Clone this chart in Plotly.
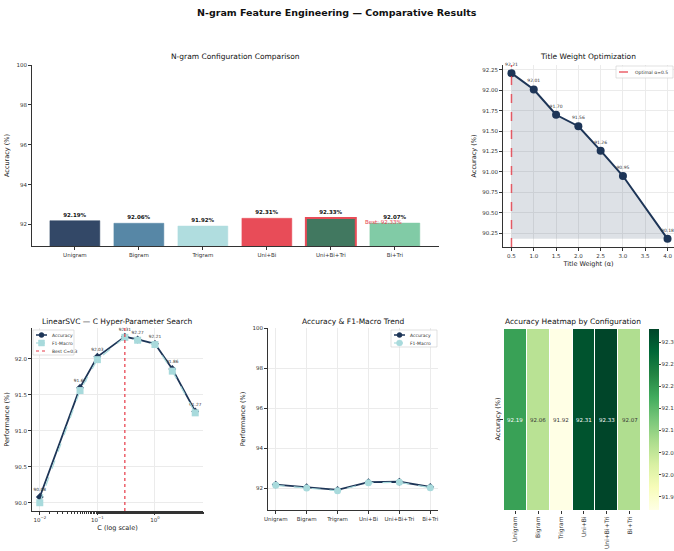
import plotly.graph_objects as go
import numpy as np

# ---------------- data ----------------
configs = ["Unigram", "Bigram", "Trigram", "Uni+Bi", "Uni+Bi+Tri", "Bi+Tri"]
config_acc = [92.19, 92.06, 91.92, 92.31, 92.33, 92.07]
config_f1 = [92.15, 92.02, 91.88, 92.28, 92.30, 92.03]
bar_colors = ["#1d3557", "#457b9d", "#a8dadc", "#e63946", "#2d6a4f", "#74c69d"]

title_weights = [0.5, 1.0, 1.5, 2.0, 2.5, 3.0, 4.0]
weight_acc = [92.21, 92.01, 91.70, 91.56, 91.26, 90.95, 90.18]

c_values = [0.01, 0.05, 0.1, 0.3, 0.5, 1.0, 2.0, 5.0]
c_acc = [90.08, 91.60, 92.03, 92.31, 92.27, 92.21, 91.86, 91.27]
c_f1 = [90.00, 91.56, 91.99, 92.30, 92.26, 92.20, 91.83, 91.25]

NAVY = "#1d3557"
RED = "#e63946"
CYAN = "#a8dadc"
FONT = "DejaVu Sans"
W, H = 674, 551


def px_x(p):
    return p / W


def px_y(p):
    return 1 - p / H


fig = go.Figure()

# ---------------- top-left: bar chart ----------------
xs = list(range(len(configs)))
best_i = int(np.argmax(config_acc))
fig.add_trace(go.Bar(
    x=xs, y=config_acc, width=0.78,
    marker=dict(color=bar_colors, opacity=0.9,
                line=dict(color=[RED if i == best_i else c for i, c in enumerate(bar_colors)],
                          width=[2 if i == best_i else 0.5 for i in xs])),
    text=[f"<b>{v:.2f}%</b>" for v in config_acc], textposition="outside",
    textfont=dict(size=5.5, color="#111", family=FONT), cliponaxis=False,
    xaxis="x", yaxis="y", showlegend=False))

# ---------------- top-right: title weight ----------------
base = min(weight_acc)
fig.add_trace(go.Scatter(x=title_weights, y=[base] * len(title_weights), mode="lines",
                         line=dict(width=0), hoverinfo="skip", showlegend=False,
                         xaxis="x2", yaxis="y2"))
fig.add_trace(go.Scatter(x=title_weights, y=weight_acc, mode="lines+markers+text",
                         fill="tonexty", fillcolor="rgba(29,53,87,0.15)",
                         line=dict(color=NAVY, width=2), marker=dict(size=8, color=NAVY),
                         text=[f"{v:.2f}" for v in weight_acc], textposition="top center",
                         textfont=dict(size=4.5, color="#333", family=FONT),
                         showlegend=False, xaxis="x2", yaxis="y2", cliponaxis=False))
best_w = title_weights[int(np.argmax(weight_acc))]
fig.add_shape(type="line", xref="x2", yref="y2 domain", x0=best_w, x1=best_w, y0=0, y1=1,
              line=dict(color=RED, width=1.5, dash="dash"), opacity=0.8)

# ---------------- bottom-left: C search ----------------
fig.add_trace(go.Scatter(x=c_values, y=c_acc, mode="lines+markers+text", name="Accuracy",
                         line=dict(color=NAVY, width=1.8), marker=dict(size=6, color=NAVY, symbol="diamond"),
                         text=[f"{v:.2f}" for v in c_acc], textposition="top center",
                         textfont=dict(size=4.3, color="#333", family=FONT),
                         xaxis="x3", yaxis="y3", showlegend=False, cliponaxis=False))
fig.add_trace(go.Scatter(x=c_values, y=c_f1, mode="lines+markers", name="F1-Macro",
                         line=dict(color=CYAN, width=1.2, dash="dash"),
                         marker=dict(size=7, color=CYAN, symbol="square"),
                         xaxis="x3", yaxis="y3", showlegend=False))
best_c = c_values[int(np.argmax(c_acc))]
fig.add_shape(type="line", xref="x3", yref="y3 domain", x0=best_c, x1=best_c, y0=0, y1=1,
              line=dict(color=RED, width=1.2, dash="dot"))

# ---------------- bottom-middle: trend ----------------
fig.add_trace(go.Scatter(x=xs, y=config_acc, mode="lines+markers", name="Accuracy",
                         line=dict(color=NAVY, width=1.8), marker=dict(size=6, color=NAVY, symbol="diamond"),
                         xaxis="x4", yaxis="y4", showlegend=False))
fig.add_trace(go.Scatter(x=xs, y=config_f1, mode="lines+markers", name="F1-Macro",
                         line=dict(color=CYAN, width=1.2, dash="dash"),
                         marker=dict(size=7, color=CYAN, symbol="circle"),
                         xaxis="x4", yaxis="y4", showlegend=False))

# ---------------- bottom-right: heatmap ----------------
ylgn = [[0.0, "#ffffe5"], [0.125, "#f7fcb9"], [0.25, "#d9f0a3"], [0.375, "#addd8e"],
        [0.5, "#78c679"], [0.625, "#41ab5d"], [0.75, "#238443"], [0.875, "#006837"],
        [1.0, "#004529"]]
zmin, zmax = min(config_acc), max(config_acc)
fig.add_trace(go.Heatmap(z=[config_acc], x=xs, y=[0], colorscale=ylgn, zmin=zmin, zmax=zmax,
                         xgap=1, xaxis="x5", yaxis="y5", showscale=True,
                         colorbar=dict(x=px_x(649), xanchor="left", xpad=0, ypad=0,
                                       y=px_y(419.5), yanchor="middle",
                                       len=181 / H, thickness=10, outlinewidth=0,
                                       tickvals=[91.95, 92.00, 92.05, 92.10, 92.15, 92.20, 92.25, 92.30],
                                       ticktext=["91.95", "92.00", "92.05", "92.10", "92.15", "92.20", "92.25", "92.30"],
                                       ticks="outside", ticklen=2,
                                       tickfont=dict(size=5.5, family=FONT, color="#333"))))
for i, v in enumerate(config_acc):
    norm = (v - zmin) / (zmax - zmin)
    fig.add_annotation(x=i, y=0, xref="x5", yref="y5", text=f"{v:.2f}", showarrow=False,
                       font=dict(size=5.5, family=FONT, color="white" if norm > 0.5 else "#333"))

# ---------------- layout ----------------
tick_font = dict(size=5.5, family=FONT, color="#333")
title_font = dict(size=6.5, family=FONT, color="#222")
axis_common = dict(showline=True, linecolor="#333", linewidth=1, ticks="outside", ticklen=3,
                   tickcolor="#333", tickfont=tick_font, zeroline=False, mirror=False)
grid = dict(showgrid=True, gridcolor="#ebebeb", gridwidth=0.6)
nogrid = dict(showgrid=False)

fig.update_layout(
    width=W, height=H, margin=dict(l=0, r=0, t=0, b=0, autoexpand=False),
    paper_bgcolor="white", plot_bgcolor="white",
    font=dict(family=FONT, color="#222"), showlegend=False,
    xaxis=dict(domain=[px_x(32), px_x(439)], range=[-0.67, 5.69], tickvals=xs, ticktext=configs,
               anchor="y", **axis_common, **nogrid),
    yaxis=dict(domain=[px_y(246), px_y(65)], range=[min(config_acc) - 1, 100],
               tickvals=[92, 94, 96, 98, 100], anchor="x",
               title=dict(text="Accuracy (%)", font=title_font, standoff=6), **axis_common, **nogrid),
    xaxis2=dict(domain=[px_x(503), 1.0], range=[0.31, 4.145],
                tickvals=[0.5, 1.0, 1.5, 2.0, 2.5, 3.0, 3.5, 4.0],
                ticktext=["0.5", "1.0", "1.5", "2.0", "2.5", "3.0", "3.5", "4.0"], anchor="y2",
                title=dict(text="Title Weight (α)", font=title_font, standoff=3), **axis_common, **grid),
    yaxis2=dict(domain=[px_y(247), px_y(65)], range=[90.08, 92.31],
                tickvals=[90.25, 90.5, 90.75, 91.0, 91.25, 91.5, 91.75, 92.0, 92.25],
                ticktext=["90.25", "90.50", "90.75", "91.00", "91.25", "91.50", "91.75", "92.00", "92.25"],
                anchor="x2", title=dict(text="Accuracy (%)", font=title_font, standoff=4),
                **axis_common, **grid),
    xaxis3=dict(domain=[px_x(32), px_x(203)], type="log", range=[-2.135, 0.834],
                tickvals=[0.01, 0.1, 1], ticktext=["10<sup>−2</sup>", "10<sup>−1</sup>", "10<sup>0</sup>"],
                anchor="y3", title=dict(text="C (log scale)", font=title_font, standoff=3),
                minor=dict(ticks="outside", ticklen=2, tickcolor="#333", showgrid=False),
                **axis_common, **grid),
    yaxis3=dict(domain=[px_y(511), px_y(328)], range=[89.885, 92.43],
                tickvals=[90.0, 90.5, 91.0, 91.5, 92.0],
                ticktext=["90.0", "90.5", "91.0", "91.5", "92.0"], anchor="x3",
                title=dict(text="Performance (%)", font=title_font, standoff=4), **axis_common, **grid),
    xaxis4=dict(domain=[px_x(268), px_x(438)], range=[-0.25, 5.25], tickvals=xs, ticktext=configs,
                anchor="y4", **axis_common, **grid),
    yaxis4=dict(domain=[px_y(510), px_y(328)], range=[min(config_acc) - 1, 100],
                tickvals=[92, 94, 96, 98, 100], anchor="x4",
                title=dict(text="Performance (%)", font=title_font, standoff=6), **axis_common, **grid),
    xaxis5=dict(domain=[px_x(504), px_x(641)], range=[-0.5, 5.5], tickvals=xs, ticktext=configs,
                tickangle=-90, anchor="y5", showline=False, ticks="outside", ticklen=3,
                tickcolor="#333", tickfont=dict(size=6, family=FONT, color="#333"),
                showgrid=False, zeroline=False),
    yaxis5=dict(domain=[px_y(510), px_y(329)], range=[-0.5, 0.5], tickvals=[0], ticktext=[""],
                anchor="x5", showline=False, ticks="outside", ticklen=3, tickcolor="#333",
                showgrid=False, zeroline=False),
)

# heatmap y-label
fig.add_annotation(x=px_x(497), y=px_y(419.5), xref="paper", yref="paper", text="Accuracy (%)",
                   textangle=-90, showarrow=False, xanchor="center", yanchor="middle",
                   font=title_font)

# best annotation on bar chart
fig.add_annotation(x=best_i + 0.83, y=config_acc[best_i] - 0.2, xref="x", yref="y",
                   text=f"Best: {config_acc[best_i]:.2f}%", showarrow=False,
                   font=dict(size=5.5, color=RED, family=FONT))


# ---------------- compact hand-drawn legends ----------------
def legend_box(x0, y0, x1, y1):
    fig.add_shape(type="rect", xref="paper", yref="paper", x0=px_x(x0), x1=px_x(x1),
                  y0=px_y(y1), y1=px_y(y0), line=dict(color="#cccccc", width=0.6),
                  fillcolor="rgba(255,255,255,0.85)", layer="above")


def legend_entry(lx0, lx1, y, label, color, dash="solid", width=1.5, symbol=None, msize=5):
    fig.add_shape(type="line", xref="paper", yref="paper", x0=px_x(lx0), x1=px_x(lx1),
                  y0=px_y(y), y1=px_y(y), line=dict(color=color, width=width, dash=dash), layer="above")
    if symbol is not None:
        cx, cy = px_x((lx0 + lx1) / 2), px_y(y)
        fig.add_shape(type=symbol, xref="paper", yref="paper", xsizemode="pixel", ysizemode="pixel",
                      xanchor=cx, yanchor=cy, x0=-msize / 2, x1=msize / 2, y0=-msize / 2, y1=msize / 2,
                      fillcolor=color, line=dict(color=color, width=0.5), layer="above")
    fig.add_annotation(x=px_x(lx1 + 3), y=px_y(y), xref="paper", yref="paper", text=label,
                       showarrow=False, xanchor="left", yanchor="middle",
                       font=dict(size=4.5, family=FONT, color="#333"))


# top-right legend
legend_box(616, 66, 673, 78)
legend_entry(619, 630, 72, f"Optimal α={best_w}", RED, dash="dash", width=1.2)

# bottom-left legend
legend_box(33, 330, 74, 355)
legend_entry(36, 47, 335, "Accuracy", NAVY, width=1.5, symbol="circle", msize=5)
legend_entry(36, 47, 343, "F1-Macro", CYAN, dash="dash", width=1.2, symbol="rect", msize=6)
legend_entry(36, 47, 351, f"Best C={best_c}", RED, dash="dot", width=1)

# bottom-middle legend
legend_box(391, 330, 437, 347)
legend_entry(394, 405, 335, "Accuracy", NAVY, width=1.5, symbol="circle", msize=5)
legend_entry(394, 405, 343, "F1-Macro", CYAN, dash="dash", width=1.2, symbol="circle", msize=6)

# titles
titles = [
    ("<b>N-gram Feature Engineering — Comparative Results</b>", 337, 12, 9.5),
    ("N-gram Configuration Comparison", (32 + 439) / 2, 57, 7.5),
    ("Title Weight Optimization", 588, 57, 7.5),
    ("LinearSVC — C Hyper-Parameter Search", (32 + 203) / 2, 321, 7.5),
    ("Accuracy & F1-Macro Trend", (268 + 438) / 2, 321, 7.5),
    ("Accuracy Heatmap by Configuration", (504 + 641) / 2, 321, 7.5),
]
for txt, x, y, s in titles:
    fig.add_annotation(x=px_x(x), y=px_y(y), xref="paper", yref="paper", text=txt,
                       showarrow=False, xanchor="center", yanchor="middle",
                       font=dict(size=s, family=FONT, color="#111"))

fig.write_html("out.html")
